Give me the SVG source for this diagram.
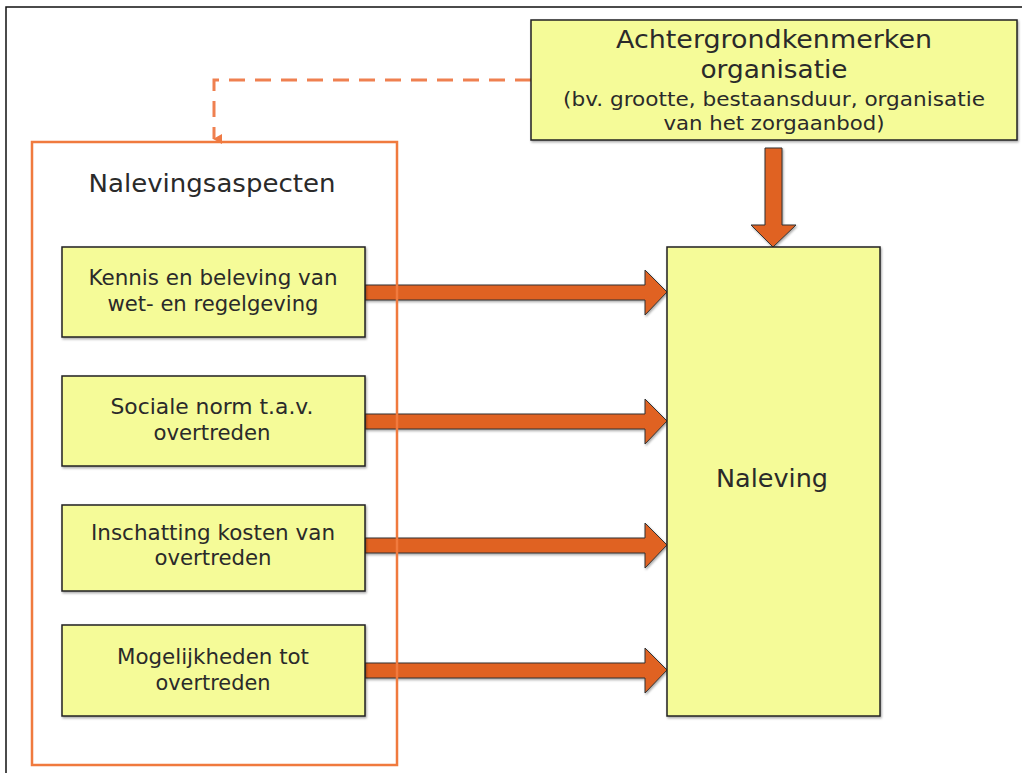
<svg xmlns="http://www.w3.org/2000/svg" width="1022" height="773" viewBox="0 0 1022 773">
<style>
.box{fill:#f5fb98;stroke:#222;stroke-width:1.5}
.t{font-family:"DejaVu Sans",Verdana,sans-serif;fill:#2a2a2a;text-anchor:middle}
.bt{font-size:20.5px}
.arr{fill:#e06222;stroke:#333;stroke-width:1}
</style>
<defs>
<filter id="sh" x="-5%" y="-5%" width="115%" height="115%"><feDropShadow dx="1" dy="1.5" stdDeviation="1" flood-color="#000" flood-opacity="0.35"/></filter>
<marker id="ah" markerWidth="10" markerHeight="10" refX="5" refY="8" orient="auto" markerUnits="userSpaceOnUse" viewBox="0 0 10 10"><path d="M0,0 L10,0 L5,9 Z" fill="#ef7a45"/></marker>
</defs>
<rect x="0" y="0" width="1022" height="773" fill="#fff"/>
<path d="M6,773 V7 H1022" fill="none" stroke="#111" stroke-width="1.5"/>
<g id="connectors">
<path d="M531,80 H214 V139" fill="none" stroke="#ef8050" stroke-width="3" stroke-dasharray="16,10" marker-end="url(#ah)"/>
<polygon class="arr" filter="url(#sh)" points="365,285 645,285 645,270 667,292 645,315 645,300 365,300"/>
<polygon class="arr" filter="url(#sh)" points="365,414 645,414 645,399 667,421 645,444 645,429 365,429"/>
<polygon class="arr" filter="url(#sh)" points="365,538 645,538 645,523 667,545 645,568 645,553 365,553"/>
<polygon class="arr" filter="url(#sh)" points="365,663 645,663 645,648 667,670 645,693 645,678 365,678"/>
<polygon class="arr" filter="url(#sh)" points="765,148 782,148 782,225 796,225 773,247 751,225 765,225"/>
</g>
<g id="group-nalevingsaspecten">
<rect x="32" y="142" width="365" height="623" fill="none" stroke="#f07a3e" stroke-width="2.5"/>
<text class="t" x="212" y="192" font-size="25" textLength="247" lengthAdjust="spacingAndGlyphs">Nalevingsaspecten</text>
</g>
<g id="node-achtergrond">
<rect class="box" filter="url(#sh)" x="531" y="20" width="486" height="120"/>
<text class="t" x="774" y="48" font-size="24" textLength="316" lengthAdjust="spacingAndGlyphs">Achtergrondkenmerken</text>
<text class="t" x="774" y="78" font-size="24" textLength="147" lengthAdjust="spacingAndGlyphs">organisatie</text>
<text class="t" x="774" y="106" font-size="19" textLength="422" lengthAdjust="spacingAndGlyphs">(bv. grootte, bestaansduur, organisatie</text>
<text class="t" x="774" y="130" font-size="19" textLength="221" lengthAdjust="spacingAndGlyphs">van het zorgaanbod)</text>
</g>
<g id="node-kennis">
<rect class="box" filter="url(#sh)" x="62" y="247" width="303" height="90"/>
<text class="t bt" x="213" y="285" textLength="249" lengthAdjust="spacingAndGlyphs">Kennis en beleving van</text>
<text class="t bt" x="213" y="311" textLength="211" lengthAdjust="spacingAndGlyphs">wet- en regelgeving</text>
</g>
<g id="node-sociale">
<rect class="box" filter="url(#sh)" x="62" y="376" width="303" height="90"/>
<text class="t bt" x="212" y="414" textLength="203" lengthAdjust="spacingAndGlyphs">Sociale norm t.a.v.</text>
<text class="t bt" x="212" y="440" textLength="117" lengthAdjust="spacingAndGlyphs">overtreden</text>
</g>
<g id="node-inschatting">
<rect class="box" filter="url(#sh)" x="62" y="505" width="303" height="86"/>
<text class="t bt" x="213" y="540" textLength="244" lengthAdjust="spacingAndGlyphs">Inschatting kosten van</text>
<text class="t bt" x="213" y="565" textLength="117" lengthAdjust="spacingAndGlyphs">overtreden</text>
</g>
<g id="node-mogelijkheden">
<rect class="box" filter="url(#sh)" x="62" y="625" width="303" height="91"/>
<text class="t bt" x="213" y="664" textLength="192" lengthAdjust="spacingAndGlyphs">Mogelijkheden tot</text>
<text class="t bt" x="213" y="690" textLength="115" lengthAdjust="spacingAndGlyphs">overtreden</text>
</g>
<g id="node-naleving">
<rect class="box" filter="url(#sh)" x="667" y="247" width="213" height="469"/>
<text class="t" x="772" y="487" font-size="25" textLength="112" lengthAdjust="spacingAndGlyphs">Naleving</text>
</g>
</svg>
